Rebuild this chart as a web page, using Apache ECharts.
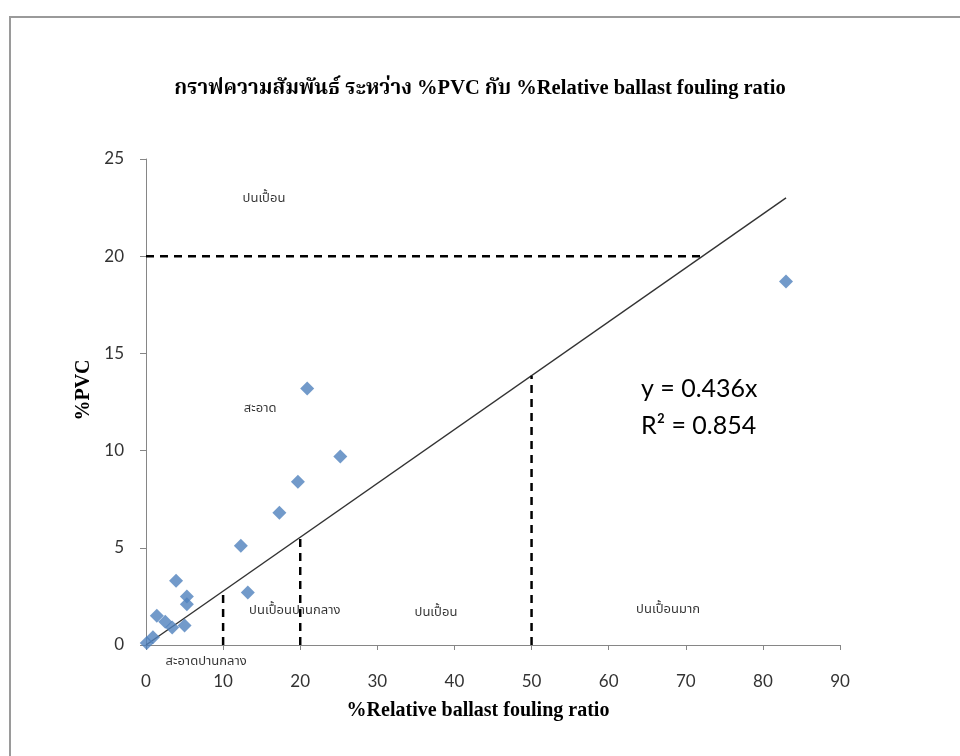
<!DOCTYPE html>
<html>
<head>
<meta charset="utf-8">
<title>%PVC vs %Relative ballast fouling ratio</title>
<script src="https://cdn.jsdelivr.net/npm/echarts@6/dist/echarts.min.js"></script>
<style>
  html, body { margin: 0; padding: 0; background: #fff; }
  #chart { width: 960px; height: 756px; }
</style>
</head>
<body>
<div id="chart"></div>
<script>
// measured points
const ratio = [0.1, 0.9, 1.4, 2.5, 3.4, 3.9, 5.0, 5.3, 5.3, 12.3, 13.2, 17.3, 19.7, 20.9, 25.2, 83.0];
const pvc   = [0.1, 0.4, 1.5, 1.2, 0.9, 3.3, 1.0, 2.5, 2.1, 5.1, 2.7, 6.8, 8.4, 13.2, 9.7, 18.7];

// trend line as drawn on the chart (end points)
const trendX = [0, 83];
const trendY = [0, 23.0];

// dashed guides: vertical at x, up to y
const guideX = [10, 20, 50];
const guideTop = [2.77, 5.55, 13.85];
// horizontal guide at y=20 from x=0 to the trend line
const hGuideY = 20;
const hGuideEnd = 72.2;

// zone labels
const zoneText = ['ปนเปื้อน', 'สะอาด', 'ปนเปื้อนปานกลาง', 'ปนเปื้อน', 'ปนเปื้อนมาก', 'สะอาดปานกลาง'];
const zoneX = [15.3, 14.8, 19.3, 37.6, 67.7, 7.8];
const zoneY = [22.9, 12.1, 1.75, 1.65, 1.8, -0.87];

const thaiFont = '"Noto Sans Thai", "Noto Sans", "DejaVu Sans", sans-serif';
const tickFont = 'Lato, "Open Sans", sans-serif';
const serifFont = '"Liberation Serif", "Noto Serif Thai", "DejaVu Serif", serif';

const dashStyle = { color: '#000', width: 2.5, type: [8, 6] };

const guideSeries = guideX.map((x, i) => ({
  type: 'line',
  data: [[x, 0], [x, guideTop[i]]],
  symbol: 'none',
  lineStyle: dashStyle,
  silent: true,
  z: 3
}));

const chart = echarts.init(document.getElementById('chart'));
chart.setOption({
  animation: false,
  backgroundColor: '#fff',
  title: {
    text: 'กราฟความสัมพันธ์ ระหว่าง %PVC กับ %Relative ballast fouling ratio',
    left: 'center',
    top: 73,
    textStyle: { fontFamily: serifFont, fontWeight: 'bold', fontSize: 20.5, color: '#000' }
  },
  grid: { left: 146, right: 120, top: 159, bottom: 111 },
  xAxis: {
    type: 'value',
    min: 0, max: 90, interval: 10,
    name: '%Relative ballast fouling ratio',
    nameLocation: 'middle',
    nameGap: 56,
    nameTextStyle: {
      fontFamily: serifFont, fontWeight: 'bold', fontSize: 20, color: '#000',
      padding: [0, 30, 0, 0]
    },
    axisLine: { lineStyle: { color: '#868686', width: 1 } },
    axisTick: { show: true, length: 5, lineStyle: { color: '#868686' } },
    splitLine: { show: false },
    axisLabel: { fontFamily: tickFont, fontSize: 17, color: '#333', margin: 28 }
  },
  yAxis: {
    type: 'value',
    min: 0, max: 25, interval: 5,
    name: '%PVC',
    nameLocation: 'middle',
    nameRotate: 90,
    nameGap: 50,
    nameTextStyle: {
      fontFamily: serifFont, fontWeight: 'bold', fontSize: 20, color: '#000',
      padding: [0, 0, 0, 24]
    },
    axisLine: { show: true, lineStyle: { color: '#868686', width: 1 } },
    axisTick: { show: true, length: 6, lineStyle: { color: '#868686' } },
    splitLine: { show: false },
    axisLabel: { fontFamily: tickFont, fontSize: 17, color: '#333', margin: 22 }
  },
  graphic: [
    {
      type: 'rect',
      shape: { x: 10, y: 17, width: 1000, height: 800 },
      style: { fill: 'none', stroke: '#9a9a9a', lineWidth: 2 },
      silent: true
    },
    {
      type: 'text',
      left: 641, top: 370,
      style: {
        text: 'y = 0.436x\nR² = 0.854',
        fontFamily: tickFont, fontSize: 25, lineHeight: 37, fill: '#000'
      }
    }
  ],
  series: [
    {
      type: 'line',
      data: trendX.map((x, i) => [x, trendY[i]]),
      symbol: 'none',
      lineStyle: { color: '#333', width: 1.4 },
      silent: true,
      z: 2
    },
    ...guideSeries,
    {
      type: 'line',
      data: [[0, hGuideY], [hGuideEnd, hGuideY]],
      symbol: 'none',
      lineStyle: dashStyle,
      silent: true,
      z: 3
    },
    {
      type: 'scatter',
      data: ratio.map((x, i) => [x, pvc[i]]),
      symbol: 'diamond',
      symbolSize: 14,
      itemStyle: { color: '#4F81BD' },
      z: 4
    },
    {
      type: 'scatter',
      data: zoneText.map((t, i) => ({ value: [zoneX[i], zoneY[i]], name: t })),
      symbolSize: 0,
      clip: false,
      silent: true,
      label: {
        show: true,
        position: 'inside',
        formatter: p => p.name,
        fontFamily: thaiFont,
        fontSize: 13,
        color: '#000'
      },
      z: 5
    }
  ]
});
</script>
</body>
</html>
